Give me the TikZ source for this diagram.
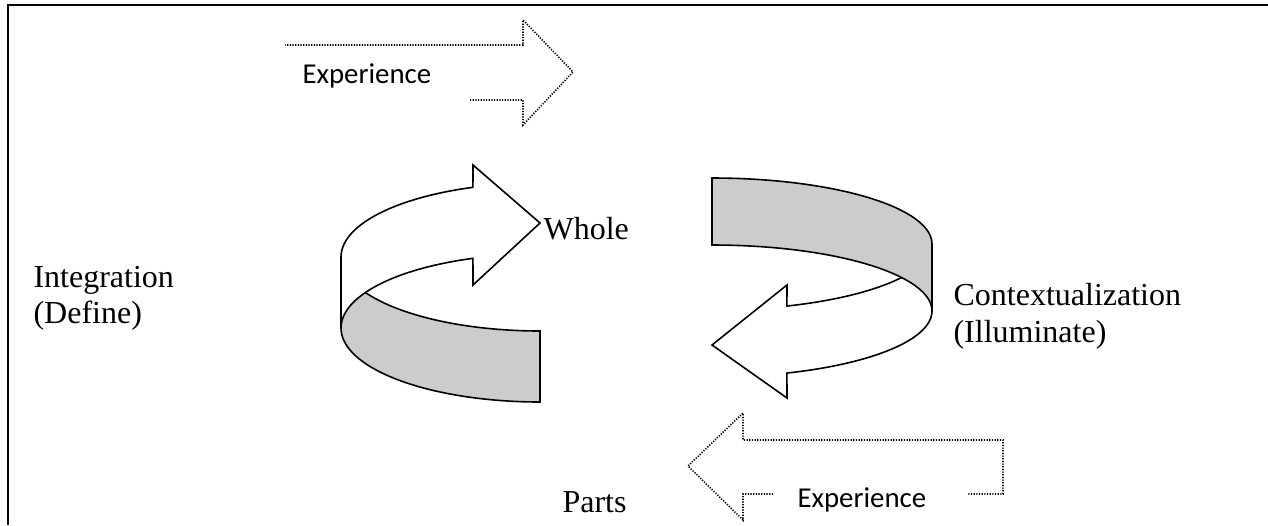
\documentclass[tikz,border=0pt]{standalone}
\usepackage{fontspec}
\setmainfont{Liberation Serif}
\newfontfamily\calibri{Carlito}
\usetikzlibrary{calc}

\begin{document}
\begin{tikzpicture} [x=.375pt, y=-.375pt,
  ribbon/.style={draw, line width=.6pt, fill=white, line join=miter},
  band/.style={ribbon, fill=black!20},
  dotarrow/.style={line width=.6pt, dash pattern=on .45pt off .55pt},
  serif/.style={anchor=base west, inner sep=0pt, font=\fontsize{12}{13.5}\selectfont},
  sans/.style={anchor=base west, inner sep=0pt, font=\calibri\fontsize{10.8}{13}\selectfont}]

\useasboundingbox (0,0) rectangle (1268,525);
\draw[line width=1.1pt] (8,525)--(8,5)--(1268,5);

% left turn: front band, then the arrow over it
\draw[band] plot[domain=90:180, variable=\t, samples=40] ({540+199*cos(\t)},{257+74*sin(\t)})
 -- plot[domain=180:90, variable=\t, samples=40] ({540+199*cos(\t)},{328+74*sin(\t)}) -- cycle;
\draw[ribbon] plot[domain=180:250.3, variable=\t, samples=40] ({540+199*cos(\t)},{257+74*sin(\t)})
 -- (473,165) -- (540,223) -- (473,285)
 -- plot[domain=250.3:180, variable=\t, samples=40] ({540+199*cos(\t)},{328+74*sin(\t)}) -- cycle;

% right turn: the arrow, then the back band over it
\draw[ribbon] plot[domain=0:70.1, variable=\t, samples=40] ({712+220*cos(\t)},{244+66*sin(\t)})
 -- (787,285) -- (712,345) -- (787,398)
 -- plot[domain=70.1:0, variable=\t, samples=40] ({712+220*cos(\t)},{311+66*sin(\t)}) -- cycle;
\draw[band] plot[domain=270:360, variable=\t, samples=40] ({712+220*cos(\t)},{244+66*sin(\t)})
 -- plot[domain=360:270, variable=\t, samples=40] ({712+220*cos(\t)},{311+66*sin(\t)}) -- cycle;

% dotted block arrows
\draw[dotarrow] (470,100)--(523,100)--(523,125)--(573,72)--(523,20)--(523,45)--(285,45);
\draw[dotarrow] (773,494)--(743,494)--(743,520)--(688,466)--(743,413)--(743,440)--(1003,440)--(1003,494)--(967,494);

\node[sans] (exptop) at (302,83) {Experience};
\node[sans] (expbot) at (797,507) {Experience};

\node[serif] (integ) at (33,287) {Integration};
\node[serif] (define) at (33,323) {(Define)};
\node[serif] (whole) at (543,239) {Whole};
\node[serif] (context) at (953,305) {Contextualization};
\node[serif] (illum) at (953,342) {(Illuminate)};
\node[serif] (parts) at (562,512) {Parts};

\end{tikzpicture}
\end{document}
